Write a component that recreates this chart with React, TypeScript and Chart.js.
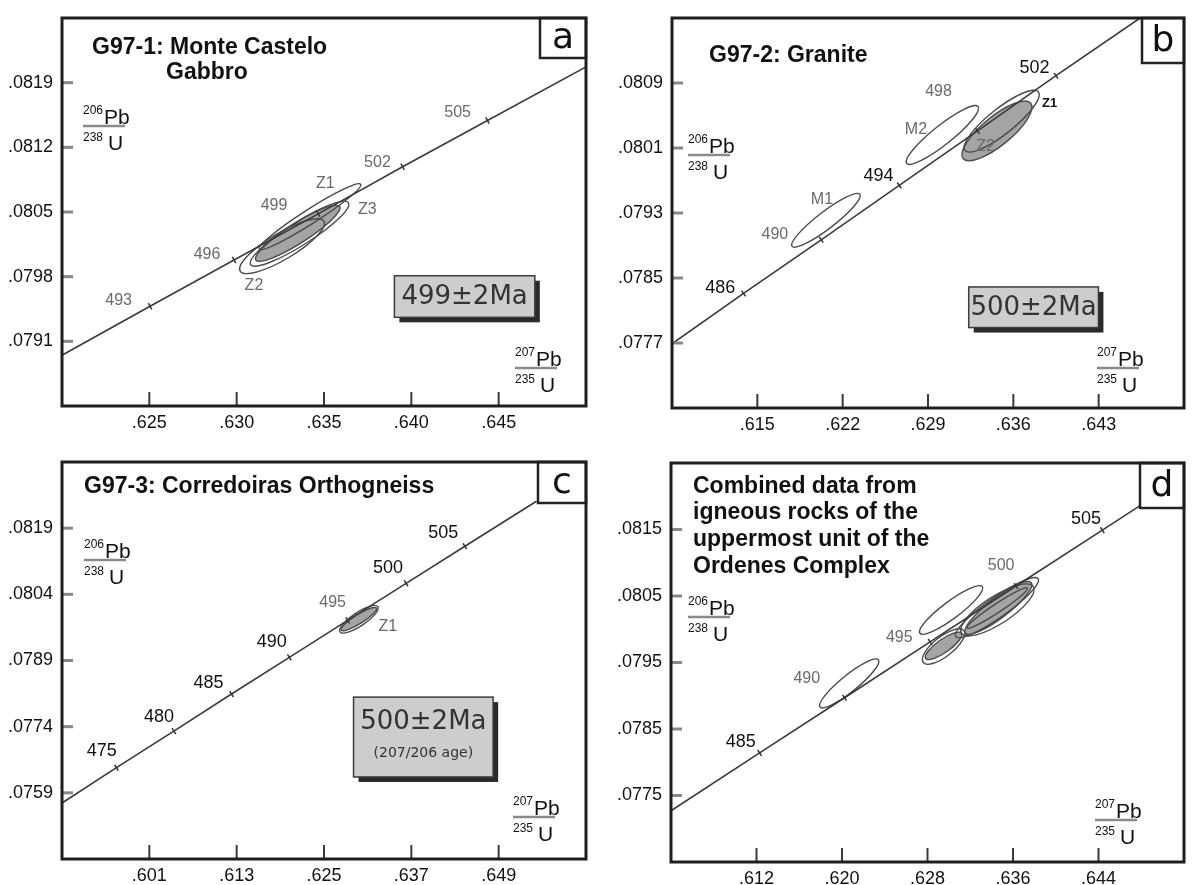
import React, { useEffect, useRef } from "react";
import { Chart, registerables } from "chart.js";
Chart.register(...registerables);

const FONT = "'Liberation Sans', Arial, sans-serif";
const ROUND = "'DejaVu Sans', sans-serif";

// ---------- Panel a : G97-1 ----------
const A_X_RANGE = [0.62, 0.65];
const A_X_STEP = 0.005;
const A_Y_RANGE = [0.0784, 0.0826];
const A_Y_STEP = 0.0007;
const A_CURVE_X = [0.62, 0.62504, 0.62985, 0.63467, 0.6395, 0.64436, 0.65];
const A_CURVE_Y = [0.07895, 0.07948, 0.07998, 0.08048, 0.08099, 0.08149, 0.08207];
const A_AGE_X = [0.62504, 0.62985, 0.63467, 0.6395, 0.64436];
const A_AGE_Y = [0.07948, 0.07998, 0.08048, 0.08099, 0.08149];
const A_ELLIPSES = [
  { x1: 0.6302, y1: 0.07986, x2: 0.635, y2: 0.0804, r: 0.27, fill: false },
  { x1: 0.6308, y1: 0.07993, x2: 0.6364, y2: 0.0806, r: 0.2, fill: false },
  { x1: 0.6311, y1: 0.07998, x2: 0.6359, y2: 0.08056, r: 0.2, fill: true },
  { x1: 0.6313, y1: 0.0801, x2: 0.6371, y2: 0.0808, r: 0.12, fill: false },
];
const A_LABELS = [
  { t: "505", x: 0.64265, y: 0.08158, s: "g" },
  { t: "502", x: 0.63806, y: 0.08103, s: "g" },
  { t: "Z1", x: 0.63507, y: 0.08081, s: "g" },
  { t: "499", x: 0.63214, y: 0.08057, s: "g" },
  { t: "Z3", x: 0.63748, y: 0.08053, s: "g" },
  { t: "496", x: 0.6283, y: 0.08004, s: "g" },
  { t: "Z2", x: 0.63099, y: 0.0797, s: "g" },
  { t: "493", x: 0.62324, y: 0.07954, s: "g" },
];
const A_AGE_BOX = { x: [0.63903, 0.64707], y: [0.07936, 0.07981], lines: ["499±2Ma"] };

// ---------- Panel b : G97-2 ----------
const B_X_RANGE = [0.608, 0.65];
const B_X_STEP = 0.007;
const B_Y_RANGE = [0.0769, 0.0817];
const B_Y_STEP = 0.0008;
const B_CURVE_X = [0.608, 0.61387, 0.62024, 0.62664, 0.63306, 0.6395, 0.6464];
const B_CURVE_Y = [0.07769, 0.07831, 0.07897, 0.07964, 0.08031, 0.08099, 0.0817];
const B_AGE_X = [0.61387, 0.62024, 0.62664, 0.63306, 0.6395];
const B_AGE_Y = [0.07831, 0.07897, 0.07964, 0.08031, 0.08099];
const B_ELLIPSES = [
  { x1: 0.61785, y1: 0.07889, x2: 0.62341, y2: 0.07953, r: 0.2, fill: false },
  { x1: 0.62725, y1: 0.07991, x2: 0.63311, y2: 0.08061, r: 0.21, fill: false },
  { x1: 0.63188, y1: 0.07997, x2: 0.63743, y2: 0.08065, r: 0.33, fill: true },
  { x1: 0.63203, y1: 0.08007, x2: 0.63805, y2: 0.08079, r: 0.27, fill: false },
];
const B_LABELS = [
  { t: "502", x: 0.63774, y: 0.08108, s: "k" },
  { t: "498", x: 0.62986, y: 0.08079, s: "g" },
  { t: "M2", x: 0.62801, y: 0.08033, s: "g" },
  { t: "494", x: 0.62494, y: 0.07975, s: "k" },
  { t: "M1", x: 0.6203, y: 0.07946, s: "g" },
  { t: "490", x: 0.61644, y: 0.07903, s: "g" },
  { t: "486", x: 0.61196, y: 0.07838, s: "k" },
  { t: "Z1", x: 0.63898, y: 0.08065, s: "z" },
  { t: "Z2", x: 0.63373, y: 0.08012, s: "g" },
];
const B_AGE_BOX = { x: [0.63234, 0.64298], y: [0.07789, 0.07839], lines: ["500±2Ma"] };

// ---------- Panel c : G97-3 ----------
const C_X_RANGE = [0.589, 0.661];
const C_X_STEP = 0.012;
const C_Y_RANGE = [0.0744, 0.0834];
const C_Y_STEP = 0.0015;
const C_CURVE_X = [0.589, 0.59648, 0.60437, 0.61229, 0.62024, 0.62824, 0.63628, 0.64436, 0.6542];
const C_CURVE_Y = [0.07567, 0.07647, 0.0773, 0.07814, 0.07897, 0.07981, 0.08065, 0.08149, 0.08251];
const C_AGE_X = [0.59648, 0.60437, 0.61229, 0.62024, 0.62824, 0.63628, 0.64436];
const C_AGE_Y = [0.07647, 0.0773, 0.07814, 0.07897, 0.07981, 0.08065, 0.08149];
const C_ELLIPSES = [
  { x1: 0.6272, y1: 0.07955, x2: 0.6324, y2: 0.08012, r: 0.3, fill: false },
  { x1: 0.62739, y1: 0.07959, x2: 0.63221, y2: 0.08009, r: 0.22, fill: true },
];
const C_LABELS = [
  { t: "505", x: 0.6414, y: 0.08179, s: "k" },
  { t: "500", x: 0.63378, y: 0.081, s: "k" },
  { t: "495", x: 0.62618, y: 0.08021, s: "g" },
  { t: "Z1", x: 0.63378, y: 0.07967, s: "g" },
  { t: "490", x: 0.61782, y: 0.07933, s: "k" },
  { t: "485", x: 0.60914, y: 0.0784, s: "k" },
  { t: "480", x: 0.60233, y: 0.07762, s: "k" },
  { t: "475", x: 0.59445, y: 0.07685, s: "k" },
];
const C_AGE_BOX = { x: [0.62906, 0.64824], y: [0.07626, 0.07807], lines: ["500±2Ma", "(207/206 age)"] };

// ---------- Panel d : combined ----------
const D_X_RANGE = [0.604, 0.652];
const D_X_STEP = 0.008;
const D_Y_RANGE = [0.0765, 0.0825];
const D_Y_STEP = 0.001;
const D_CURVE_X = [0.604, 0.61229, 0.62024, 0.62824, 0.63628, 0.64436, 0.648];
const D_CURVE_Y = [0.07727, 0.07814, 0.07897, 0.07981, 0.08065, 0.08149, 0.08187];
const D_AGE_X = [0.61229, 0.62024, 0.62824, 0.63628, 0.64436];
const D_AGE_Y = [0.07814, 0.07897, 0.07981, 0.08065, 0.08149];
const D_ELLIPSES = [
  { x1: 0.61794, y1: 0.07883, x2: 0.62341, y2: 0.07954, r: 0.22, fill: false },
  { x1: 0.62729, y1: 0.07994, x2: 0.63313, y2: 0.08064, r: 0.22, fill: false },
  { x1: 0.62783, y1: 0.07956, x2: 0.63118, y2: 0.07994, r: 0.3, fill: true },
  { x1: 0.6276, y1: 0.0795, x2: 0.6314, y2: 0.07998, r: 0.38, fill: false },
  { x1: 0.63065, y1: 0.07989, x2: 0.63835, y2: 0.08076, r: 0.2, fill: false },
  { x1: 0.63117, y1: 0.07994, x2: 0.6379, y2: 0.08064, r: 0.32, fill: false },
  { x1: 0.63154, y1: 0.07994, x2: 0.63772, y2: 0.0807, r: 0.24, fill: true },
  { x1: 0.63172, y1: 0.08002, x2: 0.63735, y2: 0.08062, r: 0.12, fill: false },
];
const D_LABELS = [
  { t: "505", x: 0.64284, y: 0.08165, s: "k" },
  { t: "500", x: 0.63489, y: 0.08095, s: "g" },
  { t: "495", x: 0.62536, y: 0.07987, s: "g" },
  { t: "490", x: 0.6167, y: 0.07926, s: "g" },
  { t: "485", x: 0.61052, y: 0.0783, s: "k" },
];

const PANELS = [
  {
    key: "a", left: 0, top: 0, width: 596, height: 442,
    area: { left: 62, top: 10, right: 586, bottom: 406 },
    xr: A_X_RANGE, xs: A_X_STEP, xd: 3, yr: A_Y_RANGE, ys: A_Y_STEP, yd: 4,
    cx: A_CURVE_X, cy: A_CURVE_Y, ax: A_AGE_X, ay: A_AGE_Y,
    ell: A_ELLIPSES, labels: A_LABELS, box: A_AGE_BOX,
    title: [["G97-1: Monte Castelo", 30, 30], ["Gabbro", 104, 55]],
    corner: { t: "a", w: 46, h: 40 },
    yFrac: [21, 108], xFrac: [-71, -38],
  },
  {
    key: "b", left: 596, top: 0, width: 596, height: 442,
    area: { left: 76, top: 10, right: 594, bottom: 408 },
    xr: B_X_RANGE, xs: B_X_STEP, xd: 3, yr: B_Y_RANGE, ys: B_Y_STEP, yd: 4,
    cx: B_CURVE_X, cy: B_CURVE_Y, ax: B_AGE_X, ay: B_AGE_Y,
    ell: B_ELLIPSES, labels: B_LABELS, box: B_AGE_BOX,
    title: [["G97-2: Granite", 37, 38]],
    corner: { t: "b", w: 42, h: 45 },
    yFrac: [16, 137], xFrac: [-87, -40],
  },
  {
    key: "c", left: 0, top: 442, width: 596, height: 443,
    area: { left: 62, top: 20, right: 586, bottom: 417 },
    xr: C_X_RANGE, xs: C_X_STEP, xd: 3, yr: C_Y_RANGE, ys: C_Y_STEP, yd: 4,
    cx: C_CURVE_X, cy: C_CURVE_Y, ax: C_AGE_X, ay: C_AGE_Y,
    ell: C_ELLIPSES, labels: C_LABELS, box: C_AGE_BOX,
    title: [["G97-3: Corredoiras Orthogneiss", 22, 25]],
    corner: { t: "c", w: 48, h: 41 },
    yFrac: [22, 98], xFrac: [-73, -42],
  },
  {
    key: "d", left: 596, top: 442, width: 596, height: 443,
    area: { left: 75, top: 21, right: 594, bottom: 420 },
    xr: D_X_RANGE, xs: D_X_STEP, xd: 3, yr: D_Y_RANGE, ys: D_Y_STEP, yd: 4,
    cx: D_CURVE_X, cy: D_CURVE_Y, ax: D_AGE_X, ay: D_AGE_Y,
    ell: D_ELLIPSES, labels: D_LABELS, box: null,
    title: [
      ["Combined data from", 22, 24],
      ["igneous rocks of the", 22, 50],
      ["uppermost unit of the", 22, 77],
      ["Ordenes Complex", 22, 104],
    ],
    corner: { t: "d", w: 44, h: 45 },
    yFrac: [17, 154], xFrac: [-89, -42],
  },
];

function drawFrac(ctx: CanvasRenderingContext2D, x: number, yl: number, s1: string, m1: string, s2: string, m2: string) {
  ctx.save();
  ctx.textAlign = "left";
  ctx.textBaseline = "alphabetic";
  ctx.fillStyle = "#111";
  ctx.font = `12px ${FONT}`;
  ctx.fillText(s1, x, yl - 12);
  const w1 = ctx.measureText(s1).width;
  ctx.fillText(s2, x, yl + 15);
  const w2 = ctx.measureText(s2).width;
  ctx.font = `21px ${FONT}`;
  ctx.fillText(m1, x + w1 + 1, yl - 2);
  ctx.fillText(m2, x + w2 + 5, yl + 24);
  ctx.strokeStyle = "#8a8a8a";
  ctx.lineWidth = 2.5;
  ctx.beginPath();
  ctx.moveTo(x, yl);
  ctx.lineTo(x + 42, yl);
  ctx.stroke();
  ctx.restore();
}

function Panel({ p }: { p: any }) {
  const ref = useRef<HTMLCanvasElement>(null);
  useEffect(() => {
    const canvas = ref.current;
    if (!canvas) return;
    const near = (v: number, t: number, st: number) => Math.abs(v - t) < st * 0.01;
    const isEdge = (v: number, r: number[], st: number) => near(v, r[0], st) || near(v, r[1], st);

    const decor = {
      id: "decor" + p.key,
      beforeDatasetsDraw(chart: any) {
        const ctx = chart.ctx as CanvasRenderingContext2D;
        const xs = chart.scales.x, ys = chart.scales.y;
        const shapes = p.ell.map((e: any) => {
          const x1 = xs.getPixelForValue(e.x1), y1 = ys.getPixelForValue(e.y1);
          const x2 = xs.getPixelForValue(e.x2), y2 = ys.getPixelForValue(e.y2);
          const a = Math.hypot(x2 - x1, y2 - y1) / 2;
          return { cx: (x1 + x2) / 2, cy: (y1 + y2) / 2, a, b: a * e.r, ang: Math.atan2(y2 - y1, x2 - x1), fill: e.fill };
        });
        ctx.save();
        shapes.forEach((s: any) => {
          if (!s.fill) return;
          ctx.beginPath();
          ctx.ellipse(s.cx, s.cy, s.a, s.b, s.ang, 0, Math.PI * 2);
          ctx.fillStyle = "#a4a4a4";
          ctx.fill();
        });
        shapes.forEach((s: any) => {
          ctx.beginPath();
          ctx.ellipse(s.cx, s.cy, s.a, s.b, s.ang, 0, Math.PI * 2);
          ctx.strokeStyle = "#4a4a4a";
          ctx.lineWidth = 1.4;
          ctx.stroke();
        });
        ctx.restore();
      },
      afterDatasetsDraw(chart: any) {
        const ctx = chart.ctx as CanvasRenderingContext2D;
        const xs = chart.scales.x, ys = chart.scales.y;
        ctx.save();
        ctx.textAlign = "center";
        ctx.textBaseline = "middle";
        p.labels.forEach((l: any) => {
          if (l.s === "g") { ctx.font = `16px ${FONT}`; ctx.fillStyle = "#6a6a6a"; }
          else if (l.s === "z") { ctx.font = `bold 13px ${FONT}`; ctx.fillStyle = "#111"; }
          else { ctx.font = `18px ${FONT}`; ctx.fillStyle = "#111"; }
          ctx.fillText(l.t, xs.getPixelForValue(l.x), ys.getPixelForValue(l.y));
        });
        if (p.box) {
          const bx1 = xs.getPixelForValue(p.box.x[0]);
          const bx2 = xs.getPixelForValue(p.box.x[1]);
          const by1 = ys.getPixelForValue(p.box.y[1]);
          const by2 = ys.getPixelForValue(p.box.y[0]);
          const w = bx2 - bx1, h = by2 - by1;
          ctx.fillStyle = "#2a2a2a";
          ctx.fillRect(bx1 + 5, by1 + 5, w, h);
          ctx.fillStyle = "#cdcdcd";
          ctx.fillRect(bx1, by1, w, h);
          ctx.strokeStyle = "#3c3c3c";
          ctx.lineWidth = 1.5;
          ctx.strokeRect(bx1, by1, w, h);
          ctx.fillStyle = "#333";
          if (p.box.lines.length === 1) {
            ctx.font = `26px ${ROUND}`;
            ctx.fillText(p.box.lines[0], (bx1 + bx2) / 2, (by1 + by2) / 2 + 1);
          } else {
            ctx.font = `26px ${ROUND}`;
            ctx.fillText(p.box.lines[0], (bx1 + bx2) / 2, by1 + h * 0.32);
            ctx.font = `14px ${ROUND}`;
            ctx.fillText(p.box.lines[1], (bx1 + bx2) / 2, by1 + h * 0.7);
          }
        }
        ctx.restore();
      },
      afterDraw(chart: any) {
        const ctx = chart.ctx as CanvasRenderingContext2D;
        const xs = chart.scales.x, ys = chart.scales.y;
        const ca = chart.chartArea;
        ctx.save();
        ctx.strokeStyle = "#3a3a3a";
        ctx.lineWidth = 2;
        xs.ticks.forEach((t: any) => {
          if (isEdge(t.value, p.xr, p.xs)) return;
          const px = xs.getPixelForValue(t.value);
          ctx.beginPath();
          ctx.moveTo(px, ca.bottom);
          ctx.lineTo(px, ca.bottom - 14);
          ctx.stroke();
        });
        ctx.strokeStyle = "#888";
        ctx.lineWidth = 3;
        ys.ticks.forEach((t: any) => {
          if (isEdge(t.value, p.yr, p.ys)) return;
          const py = ys.getPixelForValue(t.value);
          ctx.beginPath();
          ctx.moveTo(ca.left, py);
          ctx.lineTo(ca.left + 11, py);
          ctx.stroke();
        });
        const cw = p.corner.w, chh = p.corner.h;
        ctx.fillStyle = "#fff";
        ctx.fillRect(ca.right - cw, ca.top, cw, chh);
        ctx.strokeStyle = "#222";
        ctx.lineWidth = 2.5;
        ctx.strokeRect(ca.right - cw, ca.top, cw, chh);
        ctx.fillStyle = "#111";
        ctx.font = `36px ${ROUND}`;
        ctx.textAlign = "center";
        ctx.textBaseline = "middle";
        ctx.fillText(p.corner.t, ca.right - cw / 2, ca.top + chh / 2 + 1);
        ctx.strokeStyle = "#1e1e1e";
        ctx.lineWidth = 3;
        ctx.strokeRect(ca.left, ca.top, ca.right - ca.left, ca.bottom - ca.top);
        ctx.font = `bold 23px ${FONT}`;
        ctx.textAlign = "left";
        ctx.textBaseline = "middle";
        ctx.fillStyle = "#111";
        p.title.forEach((tl: any) => ctx.fillText(tl[0], ca.left + tl[1], ca.top + tl[2]));
        ctx.restore();
        drawFrac(ctx, ca.left + p.yFrac[0], ca.top + p.yFrac[1], "206", "Pb", "238", "U");
        drawFrac(ctx, ca.right + p.xFrac[0], ca.bottom + p.xFrac[1], "207", "Pb", "235", "U");
      },
    };

    const rot = (c: any) => {
      const ch = c.chart;
      const xs = ch.scales && ch.scales.x, ys = ch.scales && ch.scales.y;
      if (!xs || !ys) return 0;
      const n = p.cx.length;
      const dx = xs.getPixelForValue(p.cx[n - 1]) - xs.getPixelForValue(p.cx[0]);
      const dy = ys.getPixelForValue(p.cy[n - 1]) - ys.getPixelForValue(p.cy[0]);
      return (Math.atan2(dy, dx) * 180) / Math.PI + 90;
    };

    const chart = new Chart(canvas, {
      type: "scatter",
      data: {
        datasets: [
          {
            data: p.cx.map((x: number, i: number) => ({ x, y: p.cy[i] })),
            showLine: true,
            borderColor: "#3a3a3a",
            borderWidth: 1.6,
            pointRadius: 0,
            order: 2,
          },
          {
            data: p.ax.map((x: number, i: number) => ({ x, y: p.ay[i] })),
            showLine: false,
            pointStyle: "line",
            pointRadius: 3.5,
            borderColor: "#333",
            borderWidth: 1.5,
            rotation: rot,
            order: 1,
          } as any,
        ],
      },
      options: {
        responsive: false,
        animation: false,
        devicePixelRatio: 1,
        events: [],
        layout: { padding: { left: 0, top: p.area.top, right: p.width - p.area.right, bottom: 0 } },
        plugins: { legend: { display: false }, tooltip: { enabled: false } },
        scales: {
          x: {
            type: "linear",
            position: "bottom",
            min: p.xr[0],
            max: p.xr[1],
            afterFit: (s: any) => { s.height = p.height - p.area.bottom; },
            grid: { display: false, drawTicks: false },
            border: { display: false },
            ticks: {
              stepSize: p.xs,
              autoSkip: false,
              maxRotation: 0,
              padding: 8,
              color: "#111",
              font: { family: FONT, size: 18, lineHeight: 1 },
              callback: (v: any) => (isEdge(Number(v), p.xr, p.xs) ? "" : Number(v).toFixed(p.xd).replace(/^0/, "")),
            },
          },
          y: {
            type: "linear",
            position: "left",
            min: p.yr[0],
            max: p.yr[1],
            afterFit: (s: any) => { s.width = p.area.left; },
            grid: { display: false, drawTicks: false },
            border: { display: false },
            ticks: {
              stepSize: p.ys,
              autoSkip: false,
              padding: 9,
              color: "#111",
              font: { family: FONT, size: 18, lineHeight: 1 },
              callback: (v: any) => (isEdge(Number(v), p.yr, p.ys) ? "" : Number(v).toFixed(p.yd).replace(/^0/, "")),
            },
          },
        },
      } as any,
      plugins: [decor as any],
    });
    return () => chart.destroy();
  }, []);
  return (
    <canvas
      ref={ref}
      width={p.width}
      height={p.height}
      style={{ position: "absolute", left: p.left, top: p.top, width: p.width, height: p.height }}
    />
  );
}

export default function App() {
  return (
    <div style={{ position: "absolute", left: 0, top: 0, width: 1192, height: 885, background: "#fff", overflow: "hidden" }}>
      {PANELS.map((p) => (
        <Panel key={p.key} p={p} />
      ))}
    </div>
  );
}
